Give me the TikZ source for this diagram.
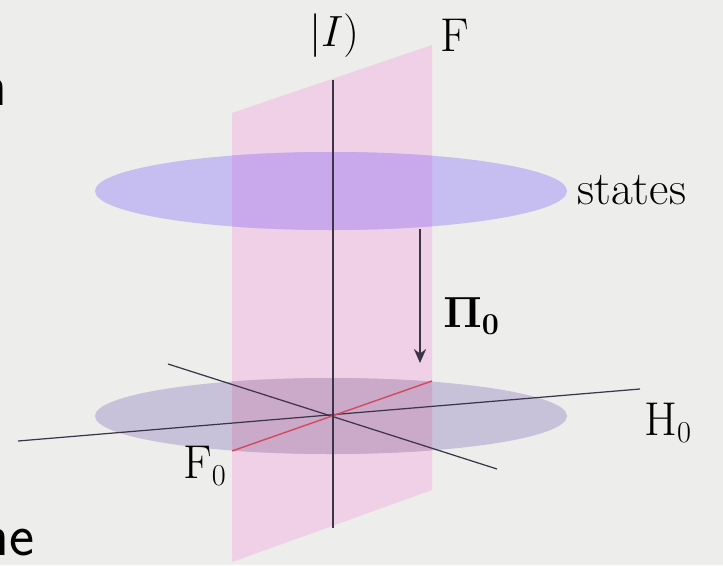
\documentclass[tikz,border=0pt]{standalone}
\usepackage{amsmath,amssymb}
\usepackage{tikz}
\usetikzlibrary{arrows.meta}

\definecolor{slidebg}{RGB}{237,237,235}
\definecolor{planepink}{RGB}{239,208,230}
\definecolor{statesblue}{RGB}{198,190,240}
\definecolor{statesviolet}{RGB}{202,168,236}
\definecolor{groundgray}{RGB}{199,194,218}
\definecolor{groundmauve}{RGB}{202,170,200}
\definecolor{axisdark}{RGB}{62,52,72}
\definecolor{fibrered}{RGB}{214,72,96}

\begin{document}
\begin{tikzpicture}[x=0.02cm, y=-0.02cm,
	every node/.style={font=\fontsize{27}{32}\selectfont, inner sep=0pt},
	axis/.style={axisdark, line width=0.7pt},
	slidetext/.style={font=\sffamily\fontsize{34}{40}\selectfont}]
	\useasboundingbox (0,0) rectangle (723,565);
	\fill[slidebg] (0,0) rectangle (723,565);
	% plane F
	\fill[planepink] (232,113) -- (432,45) -- (432,490) -- (232,562) -- cycle;
	% upper ellipse: states
	\fill[statesblue] (331,191) ellipse (236 and 39);
	\begin{scope}
		\clip (232,113) -- (432,45) -- (432,490) -- (232,562) -- cycle;
		\fill[statesviolet] (331,191) ellipse (236 and 39);
	\end{scope}
	% lower ellipse
	\fill[groundgray] (331,416) ellipse (236 and 38);
	\begin{scope}
		\clip (232,113) -- (432,45) -- (432,490) -- (232,562) -- cycle;
		\fill[groundmauve] (331,416) ellipse (236 and 38);
	\end{scope}
	% lines through the origin
	\coordinate (O) at (333,415);
	\coordinate (H0w) at (18,441);
	\coordinate (H0e) at (640,389);
	\coordinate (Dnw) at (168,364);
	\coordinate (Dse) at (497,469);
	\coordinate (F0sw) at (232,451);
	\coordinate (F0ne) at (432,381);
	\draw[axis] (H0w) -- (H0e);
	\draw[axis] (Dnw) -- (Dse);
	\draw[fibrered, line width=0.8pt] (F0sw) -- (F0ne);
	\coordinate (Itop) at (333,80);
	\coordinate (Ibot) at (333,528);
	\draw[axis] (Itop) -- (Ibot);
	% projection
	\coordinate (Ptop) at (420,229);
	\coordinate (Pbot) at (420,363);
	\draw[axis, -{Stealth[length=8pt,width=7pt]}] (Ptop) -- (Pbot);
	% labels
	\node (I) at (334,36) {$|I)$};
	\node (F) at (455,35) {F};
	\node[anchor=west] (states) at (577,190) {states};
	\node[anchor=west] (Pi0) at (443,316) {$\mathbf{\Pi_0}$};
	\node (F0) at (205,466) {F$_0$};
	\node (H0) at (668,423) {H$_0$};
	% cut-off slide text
	\node[slidetext, anchor=base east] (lnA) at (8,105) {n};
	\node[slidetext, anchor=base east] (lnB) at (35,555) {ne};
\end{tikzpicture}
\end{document}
